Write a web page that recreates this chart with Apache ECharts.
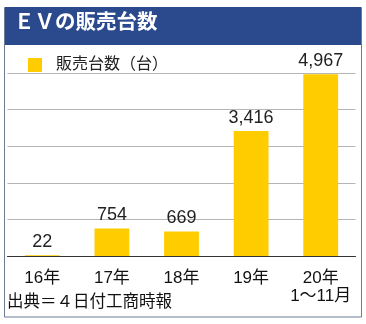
<!DOCTYPE html>
<html><head><meta charset="utf-8">
<script src="https://cdn.jsdelivr.net/npm/echarts@6/dist/echarts.min.js"></script>
<style>html,body{margin:0;padding:0;background:#fff}#c{width:366px;height:324px}</style>
</head><body><div id="c"></div>
<script>
const categories = ['16年', '17年', '18年', '19年', '20年\n1〜11月'];
const salesValues = [22, 754, 669, 3416, 4967];
const seriesName = '販売台数（台）';
const titleText = 'ＥＶの販売台数';
const sourceText = '出典＝４日付工商時報';

const FONT = '"Liberation Sans", "Noto Sans CJK JP", sans-serif';
const chart = echarts.init(document.getElementById('c'), null, {renderer: 'canvas'});
chart.setOption({
  animation: false,
  textStyle: {fontFamily: FONT},
  graphic: [
    {type: 'rect', shape: {x: 4.5, y: 7.5, width: 357, height: 309.5},
     style: {fill: '#fff', stroke: '#6d7b95', lineWidth: 1}, z: -10},
    {type: 'rect', shape: {x: 5, y: 7, width: 356, height: 38},
     style: {fill: '#2b4a8e'}, z: -9}
  ],
  title: [
    {text: titleText, left: 14, top: 13, padding: 0,
     textStyle: {color: '#fff', fontSize: 20.5, fontWeight: 'bold', fontFamily: FONT}},
    {text: sourceText, left: 7, top: 294, padding: 0,
     textStyle: {color: '#111', fontSize: 16.5, fontWeight: 'normal', fontFamily: FONT}}
  ],
  legend: {
    left: 28, top: 57, padding: 0, icon: 'rect', itemWidth: 14, itemHeight: 14,
    data: [seriesName],
    textStyle: {fontSize: 16, color: '#222', padding: [0, 0, 0, 9], fontFamily: FONT}
  },
  grid: {left: 7.5, right: 10.5, top: 73, bottom: 68},
  xAxis: {
    type: 'category', data: categories,
    axisTick: {show: false},
    axisLine: {lineStyle: {color: '#333', width: 1}},
    axisLabel: {color: '#111', fontSize: 17, margin: 13, lineHeight: 18, interval: 0, fontFamily: FONT}
  },
  yAxis: {
    type: 'value', min: 0, max: 5000, interval: 1000,
    axisLabel: {show: false}, axisLine: {show: false}, axisTick: {show: false},
    splitLine: {lineStyle: {color: '#b5b5b5', width: 1}}
  },
  series: [{
    name: seriesName, type: 'bar', data: salesValues, barWidth: '50%',
    itemStyle: {color: '#ffcc00'},
    label: {show: true, position: 'top', distance: 4, fontSize: 18, color: '#222', fontFamily: FONT,
      formatter: p => p.value.toLocaleString('en-US')}
  }]
});
</script></body></html>
